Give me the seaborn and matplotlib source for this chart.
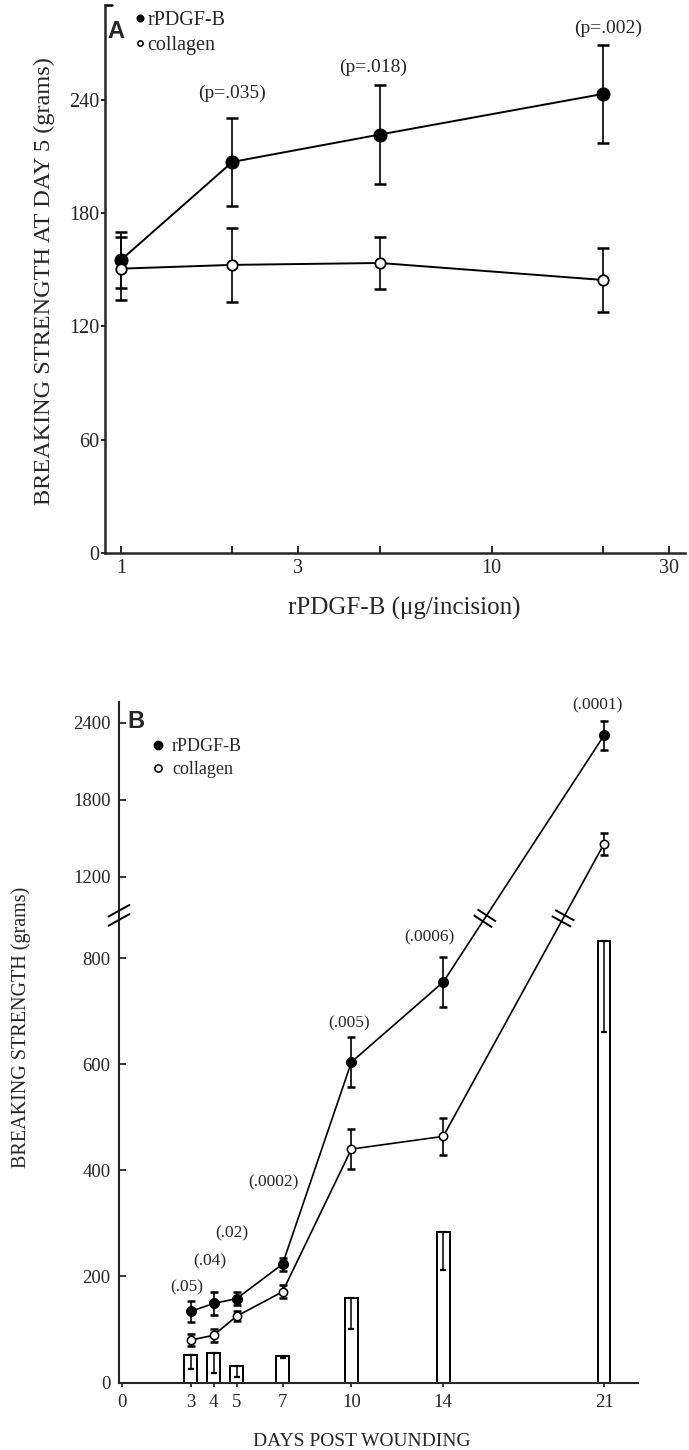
import numpy as np
import matplotlib
matplotlib.use('Agg')
import matplotlib.pyplot as plt
from matplotlib.lines import Line2D
import seaborn as sns

# Panel A: breaking strength at day 5 vs rPDGF-B dose
dose = [1, 2, 5, 20]
pdgf_a = [155, 207, 221.5, 243]
pdgf_a_err = [15, 23.5, 26, 26]
coll_a = [150.5, 152.5, 153.5, 144.5]
coll_a_err = [16.5, 19.5, 14, 17]
p_a = ['(p=.035)', '(p=.018)', '(p=.002)']
p_a_dose = [2, 4.8, 20.6]
p_a_y = [243.5, 257, 277.5]
ticks_a_x = [1, 2, 3, 5, 10, 20, 30]
ticks_a_lbl = ['1', '', '3', '', '10', '', '30']
ticks_a_y = [0, 60, 120, 180, 240]

# Panel B: breaking strength vs days post wounding
days = [3, 4, 5, 7, 10, 14, 21]
pdgf_b = [134, 149, 158, 223, 604, 755, 2300]
pdgf_b_err = [20, 21, 12, 12, 47, 47, 110]
coll_b = [80, 89, 125, 171, 440, 464, 1455]
coll_b_err = [11, 12, 9, 12, 37, 35, 87]
diff_b = [52, 55, 31, 50, 160, 284, 833]
diff_b_err = [26, 37, 20, 4, 59, 72, 172]
p_b = ['(.05)', '(.04)', '(.02)', '(.0002)', '(.005)', '(.0006)', '(.0001)']
p_b_day = [2.83, 3.84, 4.79, 6.6, 9.9, 13.4, 20.7]
p_b_y = [180, 228, 282, 378, 677, 839, 2537]
ticks_b_y = [0, 200, 400, 600, 800, 1200, 1800, 2400]
ticks_b_x = [0, 3, 4, 5, 7, 10, 14, 21]

BREAK = 875      # where the B axis gets squeezed
SQUEEZE = 0.242  # upper part slope relative to lower part


def fwd(y):
    y = np.asarray(y, dtype=float)
    return np.where(y <= BREAK, y, BREAK + (y - BREAK) * SQUEEZE)


def inv(t):
    t = np.asarray(t, dtype=float)
    return np.where(t <= BREAK, t, BREAK + (t - BREAK) / SQUEEZE)


sns.set_style('ticks')
plt.rcParams['font.family'] = ['Liberation Serif', 'DejaVu Serif']

fig = plt.figure(figsize=(6.89, 14.5), dpi=100)
axA = fig.add_axes([0.1531, 0.6186, 0.841, 0.3779])
axB = fig.add_axes([0.1727, 0.04655, 0.7533, 0.4693])

# ---------------- Panel A ----------------
axA.set_xscale('log')
eb = dict(fmt='none', ecolor='black', elinewidth=1.2, capsize=4, capthick=1.8, zorder=2)
axA.errorbar(dose, pdgf_a, yerr=pdgf_a_err, **eb)
axA.errorbar(dose, coll_a, yerr=coll_a_err, **eb)
sns.lineplot(x=dose, y=pdgf_a, ax=axA, color='black', lw=1.4, marker='o', markersize=9.4,
             markerfacecolor='black', markeredgecolor='black', zorder=3)
sns.lineplot(x=dose, y=coll_a, ax=axA, color='black', lw=1.4, marker='o', markersize=7.5,
             markerfacecolor='white', markeredgecolor='black', markeredgewidth=1.3, zorder=3)

for lbl, x, y in zip(p_a, p_a_dose, p_a_y):
    axA.text(x, y, lbl, ha='center', va='center', fontsize=14)

axA.set_xlim(0.9094, 33.2)
axA.set_ylim(0, 290)
axA.set_xticks(ticks_a_x, labels=ticks_a_lbl)
axA.minorticks_off()
axA.set_yticks(ticks_a_y)
axA.tick_params(axis='y', direction='out', length=3, width=1.4, pad=1.5, labelsize=14.5)
axA.tick_params(axis='x', direction='in', length=5, width=1.4, pad=4, labelsize=14.5)
sns.despine(ax=axA)
for s in ['left', 'bottom']:
    axA.spines[s].set_linewidth(1.8)
axA.plot([0, 0.012], [1, 1], transform=axA.transAxes, color='black', lw=1.8, clip_on=False)

axA.set_ylabel('BREAKING STRENGTH AT DAY 5 (grams)', fontsize=17.5)
axA.yaxis.set_label_coords(-0.087, 0.496)
axA.set_xlabel('rPDGF-B (\u03bcg/incision)', fontsize=18)
axA.xaxis.set_label_coords(0.515, -0.08)

axA.text(0.0026, 0.94, 'A', transform=axA.transAxes, fontsize=17, fontweight='bold',
         family='Liberation Sans', ha='left', va='baseline')
hA = [Line2D([], [], ls='none', marker='o', ms=4.8, mfc='black', mec='black'),
      Line2D([], [], ls='none', marker='o', ms=3.8, mfc='white', mec='black', mew=1.1)]
axA.legend(hA, ['rPDGF-B', 'collagen'], loc='upper left', bbox_to_anchor=(0.0528, 0.99),
           frameon=False, fontsize=14.5, handlelength=0.4, handletextpad=0.15,
           labelspacing=0.3, borderpad=0, borderaxespad=0)

# ---------------- Panel B ----------------
axB.set_yscale('function', functions=(fwd, inv))
sns.barplot(x=days, y=diff_b, native_scale=True, width=0.55, color='white', saturation=1,
            edgecolor='black', linewidth=1.4, errorbar=None, ax=axB)
axB.errorbar(days, diff_b, yerr=[diff_b_err, [0] * len(days)], fmt='none', ecolor='black',
             elinewidth=1.1, capsize=2.5, capthick=1.6, zorder=3)

ebB = dict(fmt='none', ecolor='black', elinewidth=1.2, capsize=2.6, capthick=1.8, zorder=4)
axB.errorbar(days, pdgf_b, yerr=pdgf_b_err, **ebB)
axB.errorbar(days, coll_b, yerr=coll_b_err, **ebB)
sns.lineplot(x=days, y=pdgf_b, ax=axB, color='black', lw=1.2, marker='o', markersize=7.2,
             markerfacecolor='black', markeredgecolor='black', zorder=5)
sns.lineplot(x=days, y=coll_b, ax=axB, color='black', lw=1.2, marker='o', markersize=6,
             markerfacecolor='white', markeredgecolor='black', markeredgewidth=1.1, zorder=5)

for lbl, x, y in zip(p_b, p_b_day, p_b_y):
    axB.text(x, y, lbl, ha='center', va='center', fontsize=12.5)

axB.set_xlim(-0.12, 22.48)
axB.set_ylim(0, 2560)
axB.set_xticks(ticks_b_x)
axB.set_yticks(ticks_b_y)
axB.minorticks_off()
axB.tick_params(axis='y', direction='in', length=5, width=1.3, pad=6, labelsize=13.5)
axB.tick_params(axis='x', direction='out', length=3, width=1.3, pad=5, labelsize=13.5)
sns.despine(ax=axB)
for s in ['left', 'bottom']:
    axB.spines[s].set_linewidth(1.5)

axB.set_ylabel('BREAKING STRENGTH (grams)', fontsize=14.5)
axB.yaxis.set_label_coords(-0.1696, 0.522)
axB.set_xlabel('DAYS POST WOUNDING', fontsize=14)
axB.xaxis.set_label_coords(0.467, -0.0742)

axB.text(0.0154, 0.9618, 'B', transform=axB.transAxes, fontsize=17, fontweight='bold',
         family='Liberation Sans', ha='left', va='baseline')
hB = [Line2D([], [], ls='none', marker='o', ms=6, mfc='black', mec='black'),
      Line2D([], [], ls='none', marker='o', ms=5.2, mfc='white', mec='black', mew=1.1)]
axB.legend(hB, ['rPDGF-B', 'collagen'], loc='upper left', bbox_to_anchor=(0.0647, 0.947),
           frameon=False, fontsize=13, handlelength=0.6, handletextpad=0.48,
           labelspacing=0.35, borderpad=0, borderaxespad=0)


# break marks, worked out in pixels from the data then mapped back
def to_data(ax, pts):
    return ax.transData.inverted().transform(np.asarray(pts))


def line_break(ax, x0, y0, x1, y1):
    p0 = ax.transData.transform((x0, y0))
    p1 = ax.transData.transform((x1, y1))
    yb = ax.transData.transform((x0, BREAK))[1]
    c = p0 + (yb - p0[1]) / (p1[1] - p0[1]) * (p1 - p0)
    u = (p1 - p0) / np.hypot(*(p1 - p0))
    n = np.array([u[1], -u[0]])
    for s in (-1, 1):
        m = c + s * 3.5 * u
        d = to_data(ax, [m - 11 * n, m + 11 * n])
        ax.plot(d[:, 0], d[:, 1], color='black', lw=1.4, solid_capstyle='butt', zorder=6)


line_break(axB, days[-2], pdgf_b[-2], days[-1], pdgf_b[-1])
line_break(axB, days[-2], coll_b[-2], days[-1], coll_b[-1])

sx = axB.transAxes.transform((0, 0))[0]
sy = axB.transData.transform((0, BREAK))[1]
ang = np.deg2rad(29)
dv = 12 * np.array([np.cos(ang), np.sin(ang)])
for off in (4.6, -4.6):
    c = np.array([sx, sy + off + 3])
    d = to_data(axB, [c - dv, c + dv])
    axB.plot(d[:, 0], d[:, 1], color='black', lw=1.4, clip_on=False, zorder=6)

fig.savefig('out.png', dpi=100)
